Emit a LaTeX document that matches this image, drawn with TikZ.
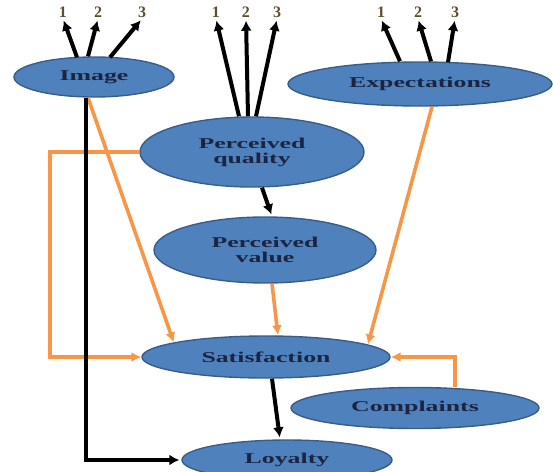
\documentclass[tikz,border=0pt]{standalone}
\usepackage{fontspec}
\setmainfont{Liberation Serif}
\usetikzlibrary{calc,arrows.meta,shapes.geometric}
\definecolor{ovalblue}{HTML}{4F81BD}
\definecolor{ovalrim}{HTML}{385D8A}
\definecolor{linkorange}{HTML}{F79646}
\definecolor{textnavy}{HTML}{1B2440}
\definecolor{itemtan}{HTML}{5E4E2E}
\def\wide#1{\scalebox{1.72}[1]{#1}}
\tikzset{
	oval/.style={ellipse, draw=ovalrim, line width=0.7pt, fill=ovalblue, inner sep=0pt,
		text=textnavy, font=\fontsize{7.5}{7.5}\selectfont\bfseries, align=center},
	item/.style={inner sep=0.5pt, text=itemtan, font=\fontsize{8}{8}\selectfont\bfseries},
	blk/.style={line width=2pt, shorten >=1pt, -{Latex[length=5pt,width=5.5pt]}},
	org/.style={draw=linkorange, line width=1.8pt, -{Latex[length=5pt,width=5pt]}}
}

\begin{document}
\begin{tikzpicture}[x=0.5pt, y=-0.5pt]
			%%%%% START %%%%%
			\clip (0, 0) rectangle (553, 472);
			
			\node[oval, minimum width=80pt, minimum height=20pt] (img) at (94, 77) {\wide{Image}};
			\node[oval, minimum width=112pt, minimum height=35pt] (pq) at (252, 152) {\wide{Perceived}\\\wide{quality}};
			\node[oval, minimum width=132pt, minimum height=22pt] (exp) at (420, 84) {\wide{Expectations}};
			\node[oval, minimum width=111pt, minimum height=33pt] (pv) at (265, 250) {\wide{Perceived}\\\wide{value}};
			\node[oval, minimum width=124pt, minimum height=21pt] (sat) at (266, 357) {\wide{Satisfaction}};
			\node[oval, minimum width=124pt, minimum height=20.5pt] (cmp) at (415, 408) {\wide{Complaints}};
			\node[oval, minimum width=105pt, minimum height=20pt] (loy) at (287, 460) {\wide{Loyalty}};
			
			% items above each construct
			\node[item] (img1) at (63, 12) {1};
			\node[item] (img2) at (98, 12) {2};
			\node[item] (img3) at (142, 12) {3};
			\node[item] (pq1) at (216, 12) {1};
			\node[item] (pq2) at (246, 12) {2};
			\node[item] (pq3) at (277, 12) {3};
			\node[item] (exp1) at (381, 12) {1};
			\node[item] (exp2) at (418, 12) {2};
			\node[item] (exp3) at (455, 12) {3};
			
			\draw[blk] ($(img.north)+(-17, 1)$) -- (img1.south);
			\draw[blk] ($(img.north)+(-6, 0)$) -- (img2.south);
			\draw[blk] ($(img.north)+(16, 1)$) -- (img3.south);
			\draw[blk] ($(pq.north)+(-13, 0)$) -- (pq1.south);
			\draw[blk] ($(pq.north)+(-4, 0)$) -- (pq2.south);
			\draw[blk] ($(pq.north)+(4, 0)$) -- (pq3.south);
			\draw[blk] ($(exp.north)+(-20, 0)$) -- (exp1.south);
			\draw[blk] ($(exp.north)+(11, 0)$) -- (exp2.south);
			\draw[blk] ($(exp.north)+(28, 1)$) -- (exp3.south);
			
			% orange links into satisfaction
			\coordinate (bend) at (50, 0);
			\draw[org] ($(img.south)+(-6, 0)$) -- (sat.171);
			\draw[org] (pq.west) -- (pq.west -| bend) |- (sat.west);
			\draw[org] ($(pv.south)+(7, 0)$) -- ($(sat.north)+(12, 0)$);
			\draw[org] ($(exp.south)+(12, 0)$) -- (sat.7);
			\draw[org] ($(cmp.north)+(40, 0)$) |- (sat.east);
			
			% black links
			\draw[blk, line width=1.6pt] ($(img.south)+(-8, 0)$) |- (loy.west);
			\draw[blk] ($(pq.south)+(10, 0)$) -- ($(pv.north)+(7, 0)$);
			\draw[blk] ($(sat.south)+(6, 0)$) -- ($(loy.north)+(-7, 0)$);
			
			%%%%% END %%%%%
\end{tikzpicture}
\end{document}
